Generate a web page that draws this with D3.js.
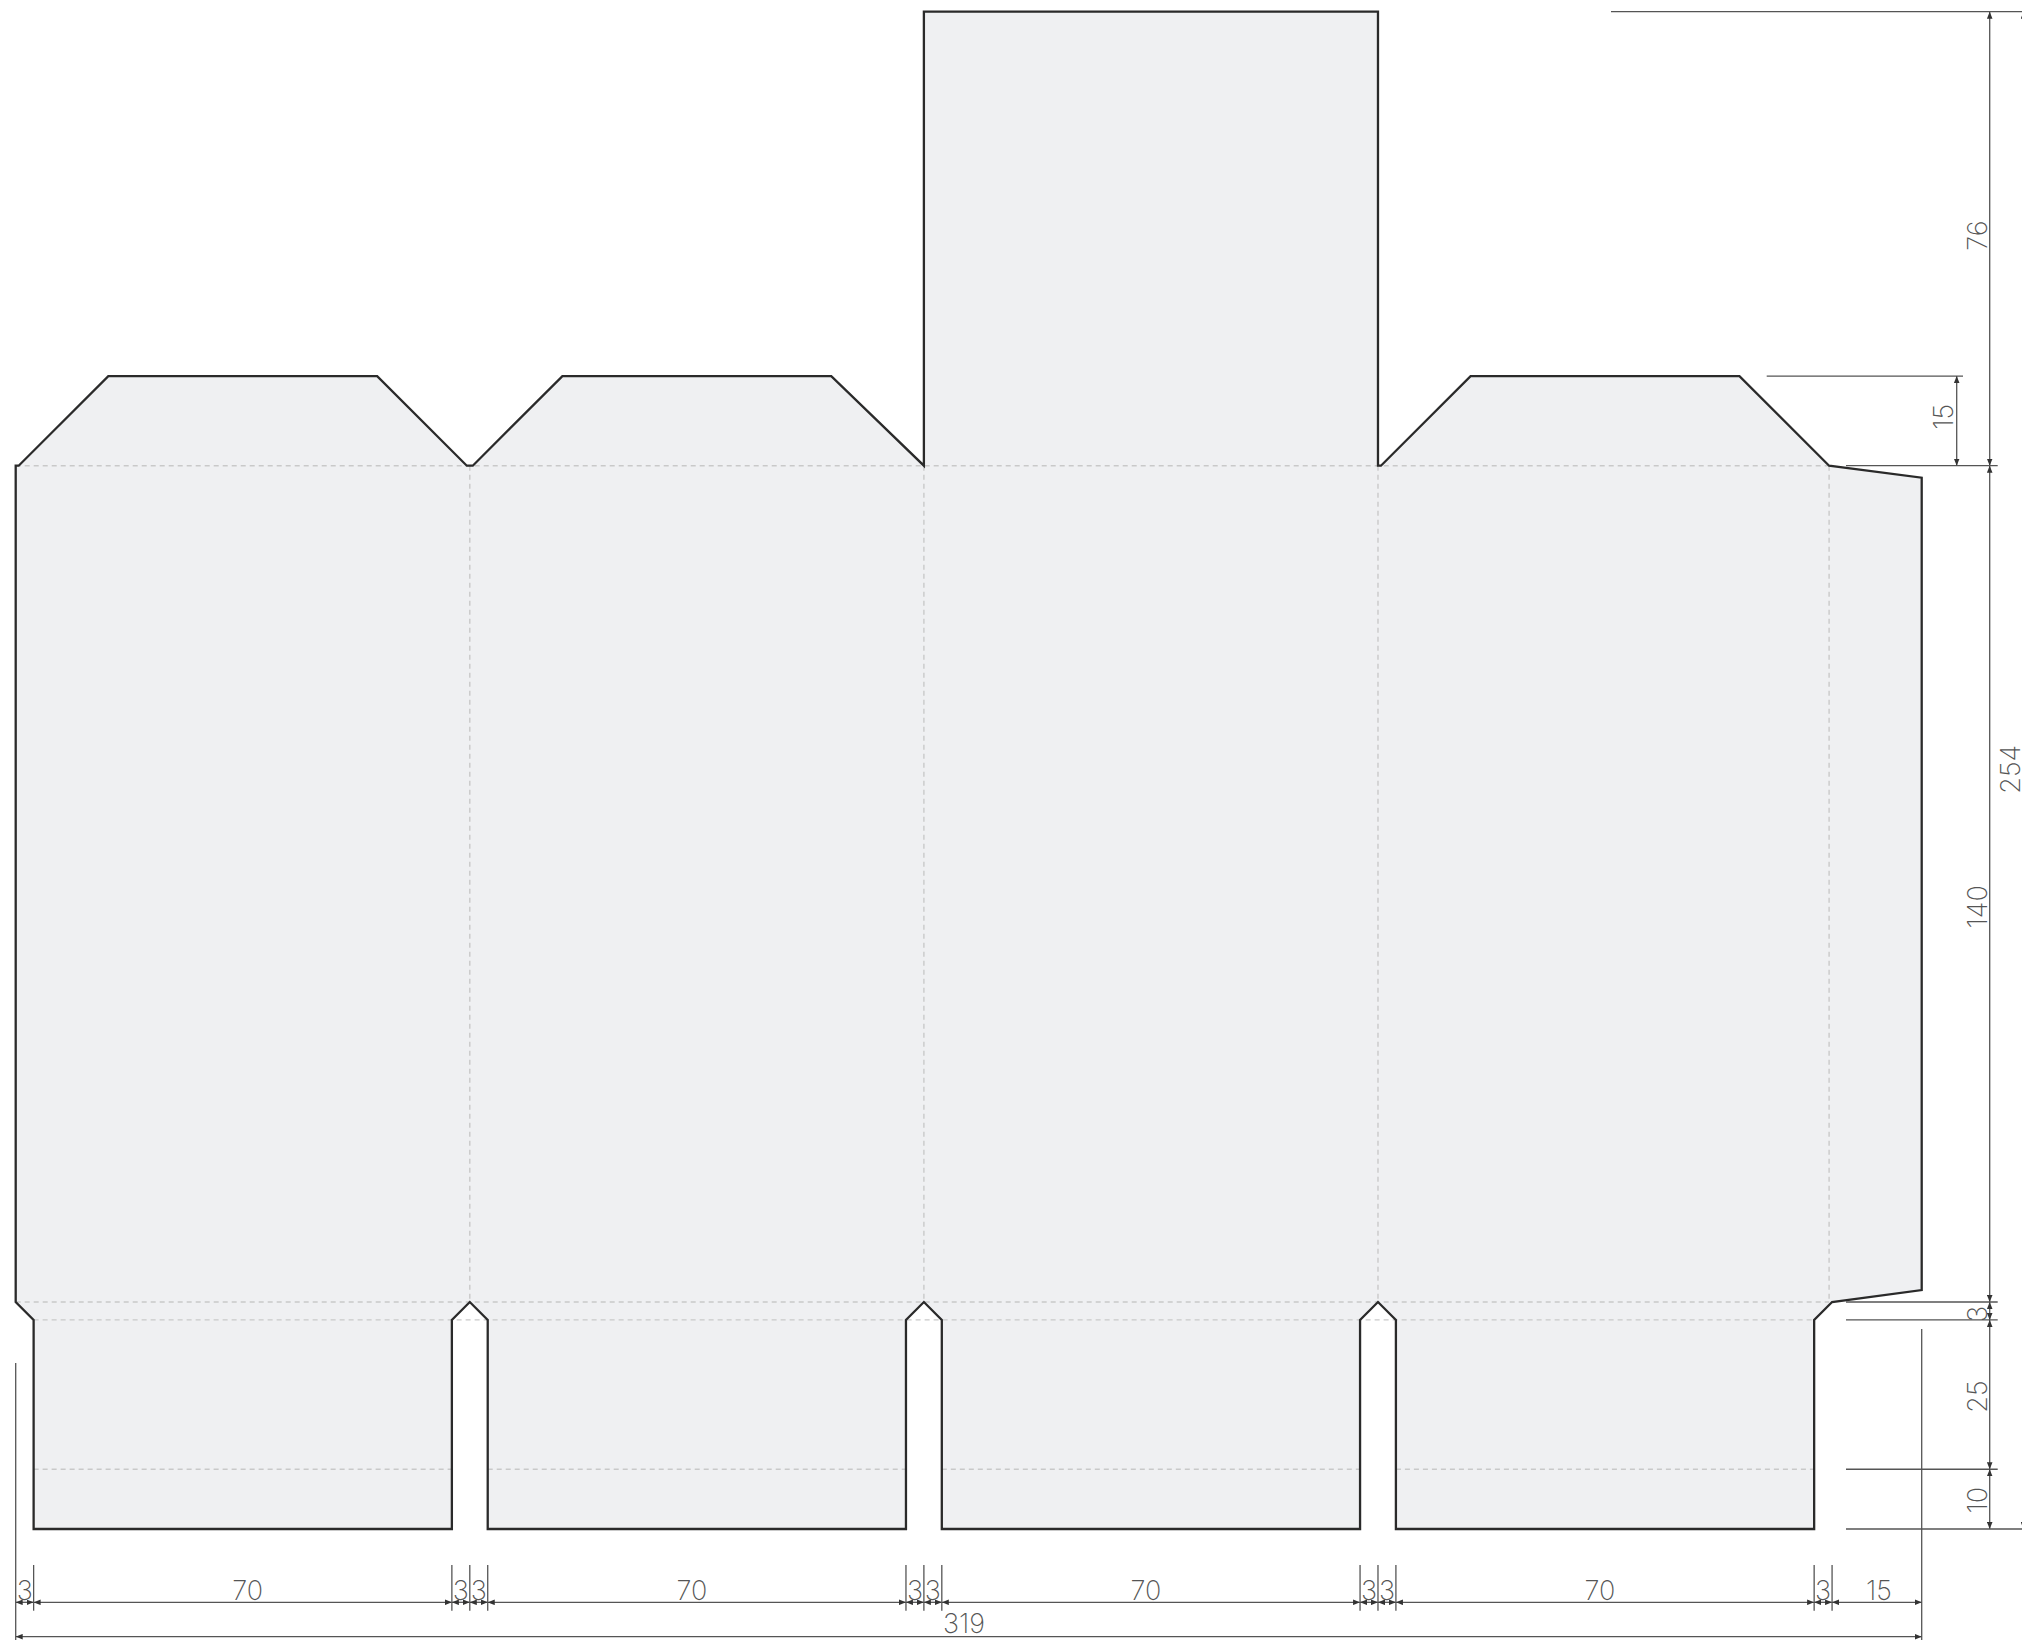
<!DOCTYPE html>
<html>
<head>
<meta charset="utf-8">
<title>Box template</title>
<script src="https://cdn.jsdelivr.net/npm/d3@7"></script>
<style>
    html, body { margin: 0; padding: 0; background: #fff; overflow: hidden; }
    text { font-family: "Inter", sans-serif; font-weight: 200; font-size: 27px; fill: #555; }
</style>
</head>
<body>
<div id="chart"></div>
<script>
// all values are in the drawing's own units (mm)
var width_chain = [3, 70, 3, 3, 70, 3, 3, 70, 3, 3, 70, 3, 15];
var height_chain = [76, 140, 3, 25, 10];
var total_width = 319;
var total_height = 254;
var top_tab = 15;

var cut_outline = [
    [0, 76], [0.5, 76], [15.5, 61], [60.5, 61], [75.5, 76], [76.5, 76],
    [91.5, 61], [136.5, 61], [152, 76], [152, 0], [228, 0], [228, 76],
    [228.5, 76], [243.5, 61], [288.5, 61], [303.5, 76], [319, 78],
    [319, 214], [304, 216], [301, 219], [301, 254], [231, 254], [231, 219],
    [228, 216], [225, 219], [225, 254], [155, 254], [155, 219], [152, 216],
    [149, 219], [149, 254], [79, 254], [79, 219], [76, 216], [73, 219],
    [73, 254], [3, 254], [3, 219], [0, 216]
];

// fold lines: [x1, y1, x2, y2]
var fold_lines = [
    [0, 76, 303.5, 76], [0, 216, 303.5, 216], [3, 219, 301, 219],
    [76, 76, 76, 216], [152, 76, 152, 216], [228, 76, 228, 216], [303.5, 76, 303.5, 216],
    [3, 244, 73, 244], [79, 244, 149, 244], [155, 244, 225, 244], [231, 244, 301, 244]
];

var x = d3.scaleLinear().domain([0, total_width]).range([15.7, 1921.7]);
var y = d3.scaleLinear().domain([0, total_height]).range([11.7, 1529]);

var svg = d3.select("#chart").append("svg")
    .attr("width", 2022)
    .attr("height", 1647)
    .style("display", "block");

var defs = svg.append("defs");
defs.append("marker")
    .attr("id", "arrow")
    .attr("viewBox", "0 0 10 8")
    .attr("refX", 10)
    .attr("refY", 4)
    .attr("markerUnits", "userSpaceOnUse")
    .attr("markerWidth", 7)
    .attr("markerHeight", 6)
    .attr("orient", "auto-start-reverse")
    .append("path")
    .attr("d", "M0,0L10,4L0,8Z")
    .attr("fill", "#333");

// box
var line = d3.line()
    .x(function(d) { return x(d[0]); })
    .y(function(d) { return y(d[1]); });

svg.append("path")
    .attr("d", line(cut_outline) + "Z")
    .attr("fill", "#eff0f2")
    .attr("stroke", "none");

svg.append("g").selectAll("line")
    .data(fold_lines)
    .enter().append("line")
    .attr("x1", function(d) { return x(d[0]); })
    .attr("y1", function(d) { return y(d[1]); })
    .attr("x2", function(d) { return x(d[2]); })
    .attr("y2", function(d) { return y(d[3]); })
    .attr("stroke", "#c9c9c9")
    .attr("stroke-width", 1.4)
    .attr("stroke-dasharray", "5 4");

svg.append("path")
    .attr("d", line(cut_outline) + "Z")
    .attr("fill", "none")
    .attr("stroke", "#2a2a2a")
    .attr("stroke-width", 2.3)
    .attr("stroke-linejoin", "miter");

// dimension helpers
var dims = svg.append("g");

var guide = function guide(x1, y1, x2, y2) {
    dims.append("line")
        .attr("x1", x1).attr("y1", y1)
        .attr("x2", x2).attr("y2", y2)
        .attr("stroke", "#555")
        .attr("stroke-width", 1.3);
};

var arrow = function arrow(x1, y1, x2, y2) {
    dims.append("line")
        .attr("x1", x1).attr("y1", y1)
        .attr("x2", x2).attr("y2", y2)
        .attr("stroke", "#555")
        .attr("stroke-width", 1.3)
        .attr("marker-start", "url(#arrow)")
        .attr("marker-end", "url(#arrow)");
};

var label_h = function label_h(value, cx, cy) {
    dims.append("text")
        .attr("x", cx).attr("y", cy)
        .attr("text-anchor", "middle")
        .text(value);
};

var label_v = function label_v(value, cx, cy) {
    dims.append("text")
        .attr("transform", "translate(" + cx + "," + cy + ") rotate(-90)")
        .attr("text-anchor", "middle")
        .text(value);
};

// the labels do not sit quite on the middle of their span in the drawing
var width_label_shift = [0, 5, 0, 0, -5, 0, 0, -5, 0, 0, -5, 0, 2];
var height_label_shift = [-3, 23, 3, 2, 1];

// bottom chain
var chain_y = 1602.3;
var pos = 0;
guide(x(0), 1363, x(0), 1640);
guide(x(total_width), 1329, x(total_width), 1640);
width_chain.forEach(function(w, i) {
    var next = pos + w;
    arrow(x(pos), chain_y, x(next), chain_y);
    if (i < width_chain.length - 1) {
        guide(x(next), 1565, x(next), 1610.7);
    }
    label_h(w, x(pos + w / 2) + width_label_shift[i], 1600);
    pos = next;
});
arrow(x(0), 1636.7, x(total_width), 1636.7);
label_h(total_width, 964, 1633);

// right chain
var chain_x = 1989.7;
var level = 0;
guide(1611, y(0), 2022, y(0));
height_chain.forEach(function(h, i) {
    var next = level + h;
    arrow(chain_x, y(level), chain_x, y(next));
    label_v(h, chain_x - 2.5, y(level + h / 2) + height_label_shift[i]);
    if (i < height_chain.length - 1) {
        guide(1846, y(next), 1997.7, y(next));
    } else {
        guide(1846, y(next), 2022, y(next));
    }
    level = next;
});

// top tab height
guide(1766.7, y(76 - top_tab), 1963, y(76 - top_tab));
arrow(1956.7, y(76 - top_tab), 1956.7, y(76));
label_v(top_tab, 1953, y(76 - top_tab / 2) - 4);

// overall height, its line sits just past the page edge
arrow(2023.5, y(0), 2023.5, y(total_height));
label_v(total_height, 2019.5, y(total_height / 2) - 1);
</script>
</body>
</html>
